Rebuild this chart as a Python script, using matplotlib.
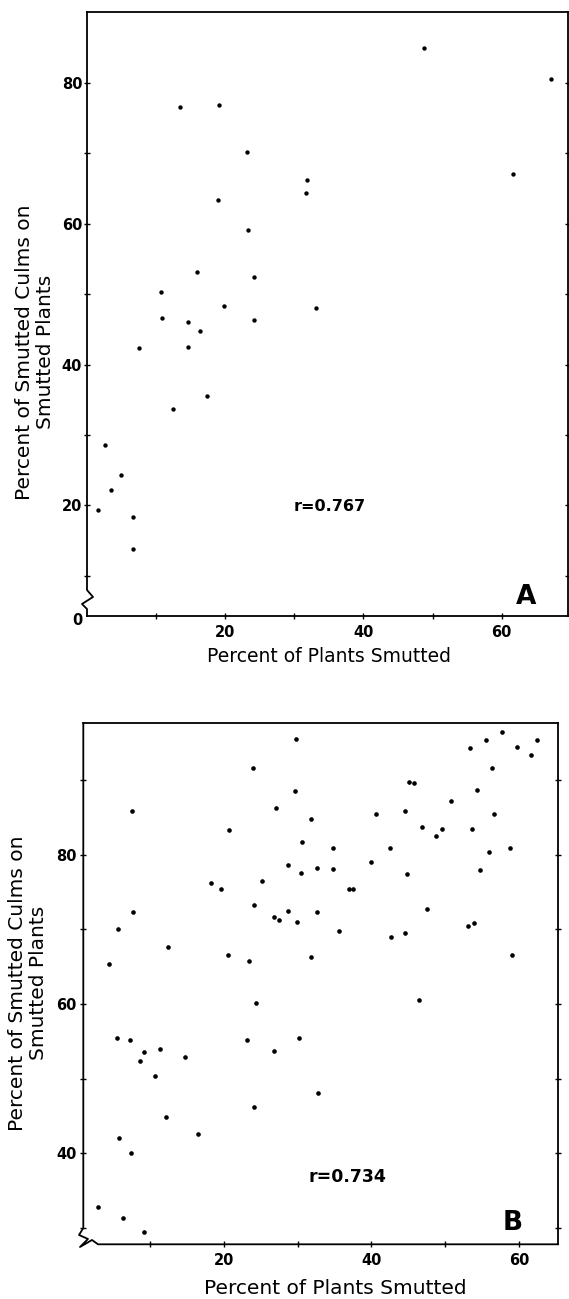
import matplotlib
matplotlib.use("Agg")
import matplotlib.pyplot as plt
from matplotlib.ticker import FixedLocator, FixedFormatter

# panel A: percent of plants smutted vs percent of smutted culms
a_x = [48.7, 67.2, 13.4, 19.1, 23.2, 61.7, 31.8, 31.7, 19.0, 23.3, 15.9, 24.1,
       10.7, 19.8, 33.2, 10.9, 24.1, 14.6, 16.4, 7.55, 14.6, 17.4, 12.5, 2.67,
       4.9, 3.5, 1.56, 6.6, 6.7]
a_y = [85.0, 80.65, 76.6, 76.9, 70.2, 67.1, 66.3, 64.4, 63.4, 59.2, 53.2, 52.4,
       50.3, 48.4, 48.1, 46.6, 46.4, 46.0, 44.8, 42.4, 42.5, 35.5, 33.7, 28.6,
       24.3, 22.2, 19.4, 18.4, 13.8]

# panel B
b_x = [29.8, 57.7, 55.5, 62.5, 53.4, 59.7, 61.6, 23.9, 56.4, 45.1, 45.8, 54.3,
       29.6, 50.8, 7.5, 27.1, 40.6, 44.6, 56.6, 31.8, 46.8, 49.6, 53.7, 20.65,
       48.7, 30.6, 34.75, 42.5, 58.8, 55.9, 40.0, 28.7, 32.6, 34.75, 30.4, 54.7,
       44.8, 18.2, 25.2, 19.65, 36.9, 37.5, 24.1, 28.65, 7.67, 32.6, 47.5, 26.8,
       27.5, 29.9, 53.9, 53.1, 5.64, 35.65, 42.65, 44.6, 12.4, 20.6, 59.1, 31.8,
       4.47, 23.4, 46.4, 24.35,
       5.53, 7.25, 23.1, 30.2, 9.2, 11.3, 26.8, 8.6, 14.7, 10.6, 32.8, 24.1,
       12.2, 16.55, 5.8, 7.4, 3.0, 6.3, 9.2]
b_y = [95.5, 96.4, 95.4, 95.4, 94.3, 94.4, 93.4, 91.6, 91.6, 89.8, 89.6, 88.7,
       88.5, 87.2, 85.9, 86.3, 85.5, 85.8, 85.5, 84.8, 83.75, 83.5, 83.4, 83.35,
       82.45, 81.7, 80.85, 80.9, 80.9, 80.35, 78.97, 78.6, 78.2, 78.1, 77.6, 77.9,
       77.45, 76.25, 76.5, 75.4, 75.4, 75.4, 73.3, 72.5, 72.3, 72.35, 72.7, 71.6,
       71.25, 71.0, 70.85, 70.4, 70.0, 69.8, 69.0, 69.5, 67.6, 66.5, 66.55, 66.3,
       65.4, 65.7, 60.5, 60.1,
       55.5, 55.2, 55.2, 55.4, 53.6, 54.0, 53.7, 52.35, 52.9, 50.4, 48.1, 46.2,
       44.8, 42.55, 42.0, 40.0, 32.85, 31.3, 29.4]

a_r = "r=0.767"
b_r = "r=0.734"
xlabel = "Percent of Plants Smutted"
ylabel = "Percent of Smutted Culms on\nSmutted Plants"

W, H = 569, 1299
fig = plt.figure(figsize=(W / 100, H / 100), dpi=100)
fig.patch.set_facecolor("white")


def px(x0, y0, x1, y1):
    return [x0 / W, 1 - y1 / H, (x1 - x0) / W, (y1 - y0) / H]


def style(ax, xticks, xlab, yticks, ylab, ypad):
    for s in ax.spines.values():
        s.set_linewidth(1.3)
    ax.xaxis.set_major_locator(FixedLocator(xticks))
    ax.xaxis.set_major_formatter(FixedFormatter([str(t) if t in xlab else "" for t in xticks]))
    ax.yaxis.set_major_locator(FixedLocator(yticks))
    ax.yaxis.set_major_formatter(FixedFormatter([str(t) if t in ylab else "" for t in yticks]))
    ax.tick_params(axis="both", direction="inout", length=4, width=1, labelsize=10.5)
    ax.tick_params(axis="x", pad=4.5)
    ax.tick_params(axis="y", pad=ypad, right=True)
    for lab in ax.get_xticklabels() + ax.get_yticklabels():
        lab.set_fontweight("bold")


# ---- panel A ----
axA = fig.add_axes(px(87, 12, 568, 616))
axA.scatter(a_x, a_y, s=10, color="black", linewidths=0)
axA.set_xlim(0, 69.6)
axA.set_ylim(4.3, 90.1)
style(axA, [10, 20, 30, 40, 50, 60], (20, 40, 60),
      [10, 20, 30, 40, 50, 60, 70, 80], (20, 40, 60, 80), 1.5)
axA.spines["left"].set_visible(False)
axA.plot([0, 0, -0.0104, 0.0125, 0, 0], [0, 0.0116, 0.0199, 0.0315, 0.043, 1],
         transform=axA.transAxes, color="black", lw=1.3, clip_on=False)
axA.text(-0.021, -0.007, "0", transform=axA.transAxes, ha="center", va="center",
         fontsize=10.5, fontweight="bold")
axA.text(0.505, 0.182, a_r, transform=axA.transAxes, ha="center", va="center",
         fontsize=11.5, fontweight="bold")
axA.text(0.913, 0.0315, "A", transform=axA.transAxes, ha="center", va="center",
         fontsize=19, fontweight="bold")
fig.text(329 / W, 1 - 656 / H, xlabel, ha="center", va="center", fontsize=13.5)
fig.text(35 / W, 1 - 352 / H, ylabel, rotation=90, ha="center", va="center",
         multialignment="center", fontsize=14.5, linespacing=1.1)

# ---- panel B ----
axB = fig.add_axes(px(83.3, 723.3, 558, 1244.3))
axB.scatter(b_x, b_y, s=11, color="black", linewidths=0)
axB.set_xlim(0.94, 65.3)
axB.set_ylim(27.8, 97.6)
style(axB, [10, 20, 30, 40, 50, 60], (20, 40, 60),
      [30, 40, 50, 60, 70, 80, 90], (40, 60, 80), 3)
axB.spines["left"].set_visible(False)
axB.spines["bottom"].set_visible(False)
axB.plot([0, 0, -0.009, 0.0099, -0.007, 0.0183, 0.031, 1],
         [1, 0.0313, 0.0179, 0.0102, -0.0052, 0.0083, 0, 0],
         transform=axB.transAxes, color="black", lw=1.3, clip_on=False)
axB.text(0.5555, 0.129, b_r, transform=axB.transAxes, ha="center", va="center",
         fontsize=12.5, fontweight="bold")
axB.text(0.904, 0.041, "B", transform=axB.transAxes, ha="center", va="center",
         fontsize=19, fontweight="bold")
fig.text(335 / W, 1 - 1289 / H, xlabel, ha="center", va="center", fontsize=14.5)
fig.text(27.75 / W, 1 - 983 / H, ylabel, rotation=90, ha="center", va="center",
         multialignment="center", fontsize=14.5, linespacing=1.1)

fig.savefig("out.png", dpi=100, facecolor="white")
